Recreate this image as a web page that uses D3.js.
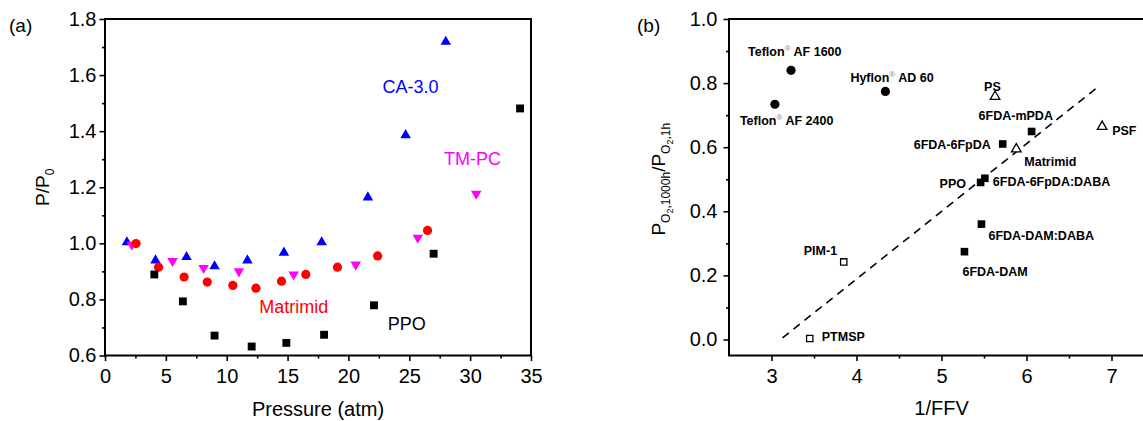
<!DOCTYPE html>
<html><head><meta charset="utf-8">
<script src="https://cdn.jsdelivr.net/npm/d3@7"></script>
<style>
body{margin:0;background:#fff}
svg{display:block}
text{font-family:Arial,"Liberation Sans",sans-serif;fill:#000}
</style></head><body>
<svg id="chart" width="1143" height="421"></svg>
<script>
// ---------- Panel (a) data ----------
const caPressure   = [1.8, 4.15, 6.7, 9.0, 11.7, 14.7, 17.8, 21.6, 24.7, 28.0];
const caRatio      = [1.004, 0.939, 0.951, 0.918, 0.939, 0.967, 1.004, 1.164, 1.386, 1.719];
const tmpcPressure = [2.2, 5.55, 8.1, 11.0, 15.5, 20.6, 25.7, 30.5];
const tmpcRatio    = [0.995, 0.937, 0.912, 0.900, 0.889, 0.924, 1.020, 1.177];
const matPressure  = [2.55, 4.4, 6.5, 8.4, 10.5, 12.4, 14.5, 16.5, 19.1, 22.4, 26.5];
const matRatio     = [0.999, 0.915, 0.880, 0.862, 0.850, 0.840, 0.865, 0.889, 0.915, 0.955, 1.046];
const ppoPressure  = [4.05, 6.4, 9.0, 12.05, 14.9, 18.0, 22.1, 27.0, 34.1];
const ppoRatio     = [0.889, 0.793, 0.671, 0.632, 0.645, 0.674, 0.779, 0.963, 1.481];
const xTicksA = [0, 5, 10, 15, 20, 25, 30, 35];
const yTicksA = [0.6, 0.8, 1.0, 1.2, 1.4, 1.6, 1.8];

// ---------- Panel (b) data ----------
const polyNames = ["Teflon AF 1600","Teflon AF 2400","Hyflon AD 60","PS","PSF","Matrimid",
  "6FDA-mPDA","6FDA-6FpDA","PPO","6FDA-6FpDA:DABA","6FDA-DAM:DABA","6FDA-DAM","PIM-1","PTMSP"];
const polyFFV   = [3.23, 3.04, 4.34, 5.63, 6.89, 5.88, 6.06, 5.72, 5.46, 5.51, 5.47, 5.27, 3.85, 3.45];
const polyRatio = [0.840, 0.734, 0.774, 0.758, 0.664, 0.594, 0.649, 0.610, 0.490, 0.503, 0.360, 0.274, 0.242, 0.003];
const polyMarker= ["circle","circle","circle","openTri","openTri","openTri","square","square","square","square","square","square","openSquare","openSquare"];
const polyReg   = [true, true, true, false, false, false, false, false, false, false, false, false, false, false];
const trendFFV   = [3.13, 6.84];
const trendRatio = [0.005, 0.788];
const xTicksB = [3, 4, 5, 6, 7];
const yTicksB = [0.0, 0.2, 0.4, 0.6, 0.8, 1.0];

const svg = d3.select("#chart");

// ---------- Panel (a) ----------
const xA = d3.scaleLinear().domain([0, 35]).range([105, 531]);
const yA = d3.scaleLinear().domain([0.6, 1.8]).range([355.5, 19]);

function axesFrame(g, x, y, xt, yt, xMinor, yMinor, xFmt, yFmt, ypad) {
  const x0 = x.range()[0], x1 = x.range()[1], y0 = y.range()[0], y1 = y.range()[1];
  g.append("g").attr("transform", `translate(0,${y0})`)
    .call(d3.axisBottom(x).tickValues(xMinor).tickSize(3).tickSizeOuter(0).tickFormat(""))
    .call(s => s.select(".domain").remove())
    .selectAll("line").attr("stroke-width", 1.6);
  g.append("g").attr("transform", `translate(${x0},0)`)
    .call(d3.axisLeft(y).tickValues(yMinor).tickSize(3).tickSizeOuter(0).tickFormat(""))
    .call(s => s.select(".domain").remove())
    .selectAll("line").attr("stroke-width", 1.6);
  const ax = g.append("g").attr("transform", `translate(0,${y0})`)
    .call(d3.axisBottom(x).tickValues(xt).tickSize(5.5).tickPadding(8).tickSizeOuter(0).tickFormat(xFmt));
  ax.select(".domain").remove();
  ax.selectAll("line").attr("stroke-width", 1.6);
  ax.selectAll("text").attr("font-size", 20).attr("font-family", "Arial, 'Liberation Sans', sans-serif");
  const ay = g.append("g").attr("transform", `translate(${x0},0)`)
    .call(d3.axisLeft(y).tickValues(yt).tickSize(5.5).tickPadding(ypad).tickSizeOuter(0).tickFormat(yFmt));
  ay.select(".domain").remove();
  ay.selectAll("line").attr("stroke-width", 1.6);
  ay.selectAll("text").attr("font-size", 20).attr("font-family", "Arial, 'Liberation Sans', sans-serif");
  g.append("rect").attr("x", x0).attr("y", y1).attr("width", x1 - x0).attr("height", y0 - y1)
    .attr("fill", "none").attr("stroke", "#000").attr("stroke-width", 2);
}

const gA = svg.append("g");
axesFrame(gA, xA, yA, xTicksA, yTicksA,
  d3.range(2.5, 35, 5), d3.range(0.7, 1.8, 0.2),
  d3.format("d"), d3.format(".1f"), 3);

const triUp = d3.symbol().type(d3.symbolTriangle).size(48)();
const sq = d3.symbol().type(d3.symbolSquare).size(62)();

gA.selectAll("path.ca").data(caPressure).join("path")
  .attr("d", triUp).attr("fill", "#0000ff")
  .attr("transform", (d, i) => `translate(${xA(d)},${yA(caRatio[i])})`);
gA.selectAll("path.tm").data(tmpcPressure).join("path")
  .attr("d", triUp).attr("fill", "#ff00ff")
  .attr("transform", (d, i) => `translate(${xA(d)},${yA(tmpcRatio[i])}) rotate(180)`);
gA.selectAll("circle.mat").data(matPressure).join("circle")
  .attr("r", 4.6).attr("fill", "#ff0000")
  .attr("cx", d => xA(d)).attr("cy", (d, i) => yA(matRatio[i]));
gA.selectAll("path.ppo").data(ppoPressure).join("path")
  .attr("d", sq).attr("fill", "#000")
  .attr("transform", (d, i) => `translate(${xA(d)},${yA(ppoRatio[i])})`);

const seriesLabels = [
  {t: "CA-3.0", x: 25.1, y: 1.535, c: "#0000ff"},
  {t: "TM-PC", x: 30.2, y: 1.28, c: "#ff00ff"},
  {t: "Matrimid", x: 15.5, y: 0.75, c: "#ff0000"},
  {t: "PPO", x: 24.8, y: 0.69, c: "#000"}
];
gA.selectAll("text.sl").data(seriesLabels).join("text")
  .attr("x", d => xA(d.x)).attr("y", d => yA(d.y))
  .attr("text-anchor", "middle").attr("font-size", 18)
  .style("fill", d => d.c).text(d => d.t);

svg.append("text").attr("x", 9).attr("y", 32).attr("font-size", 19).text("(a)");
svg.append("text").attr("x", xA(17.5)).attr("y", 416).attr("text-anchor", "middle")
  .attr("font-size", 20).text("Pressure (atm)");
const yl = svg.append("text").attr("transform", `translate(49,${yA(1.2)}) rotate(-90)`)
  .attr("text-anchor", "middle").attr("font-size", 19);
yl.append("tspan").text("P/P");
yl.append("tspan").attr("dy", 5).attr("font-size", 12).text("0");

// ---------- Panel (b) ----------
const xB = d3.scaleLinear().domain([2.5, 7.5]).range([729, 1154]);
const yB = d3.scaleLinear().domain([-0.05, 1.0]).range([355.5, 19]);
const gB = svg.append("g");
axesFrame(gB, xB, yB, xTicksB, yTicksB,
  [3.5, 4.5, 5.5, 6.5], d3.range(0.1, 1.0, 0.2),
  d3.format("d"), d3.format(".1f"), 6);

gB.append("path")
  .attr("d", d3.line().x(d => xB(d[0])).y(d => yB(d[1]))(trendFFV.map((v, i) => [v, trendRatio[i]])))
  .attr("stroke", "#000").attr("stroke-width", 1.6).attr("stroke-dasharray", "8,6").attr("fill", "none");

const triB = d3.symbol().type(d3.symbolTriangle).size(40)();
const sqB = d3.symbol().type(d3.symbolSquare).size(58)();
const osqB = d3.symbol().type(d3.symbolSquare).size(40)();
polyFFV.forEach((v, i) => {
  const m = polyMarker[i], px = xB(v), py = yB(polyRatio[i]);
  if (m === "circle") gB.append("circle").attr("cx", px).attr("cy", py).attr("r", 4.6).attr("fill", "#000");
  else if (m === "square") gB.append("path").attr("d", sqB).attr("transform", `translate(${px},${py})`).attr("fill", "#000");
  else if (m === "openSquare") gB.append("path").attr("d", osqB).attr("transform", `translate(${px},${py})`).attr("fill", "#fff").attr("stroke", "#000").attr("stroke-width", 1.3);
  else gB.append("path").attr("d", triB).attr("transform", `translate(${px},${py})`).attr("fill", "#fff").attr("stroke", "#000").attr("stroke-width", 1.3);
});

const labelDx = [-43, -35, -35, -11, 10, 8, -53, -89, -41, 8, 7, -2, -40, 12];
const labelDy = [-14, 21, -9, -6, 8, 17, -11, 5, 6, 8, 15.5, 24.5, -7, 2];
polyNames.forEach((n, i) => {
  const t = gB.append("text").attr("x", xB(polyFFV[i]) + labelDx[i]).attr("y", yB(polyRatio[i]) + labelDy[i])
    .attr("font-size", 12.5).attr("font-weight", "bold");
  if (polyReg[i]) {
    const parts = n.split(" ");
    t.append("tspan").text(parts[0]);
    t.append("tspan").attr("dy", -5).attr("font-size", 8).attr("font-weight", "normal").style("fill", "#888").text("®");
    t.append("tspan").attr("dy", 5).text(" " + parts.slice(1).join(" "));
  } else t.text(n);
});

svg.append("text").attr("x", 637).attr("y", 32).attr("font-size", 19).text("(b)");
svg.append("text").attr("x", xB(5)).attr("y", 415).attr("text-anchor", "middle")
  .attr("font-size", 20).text("1/FFV");
const yr = svg.append("text").attr("transform", `translate(665,${yB(0.5)}) rotate(-90)`)
  .attr("text-anchor", "middle").attr("font-size", 19);
yr.append("tspan").text("P");
yr.append("tspan").attr("dy", 5).attr("font-size", 12).text("O");
yr.append("tspan").attr("dy", 3).attr("font-size", 9).text("2");
yr.append("tspan").attr("dy", -3).attr("font-size", 12).text(",1000h");
yr.append("tspan").attr("dy", -5).text("/P");
yr.append("tspan").attr("dy", 5).attr("font-size", 12).text("O");
yr.append("tspan").attr("dy", 3).attr("font-size", 9).text("2");
yr.append("tspan").attr("dy", -3).attr("font-size", 12).text(",1h");
</script>
</body></html>
